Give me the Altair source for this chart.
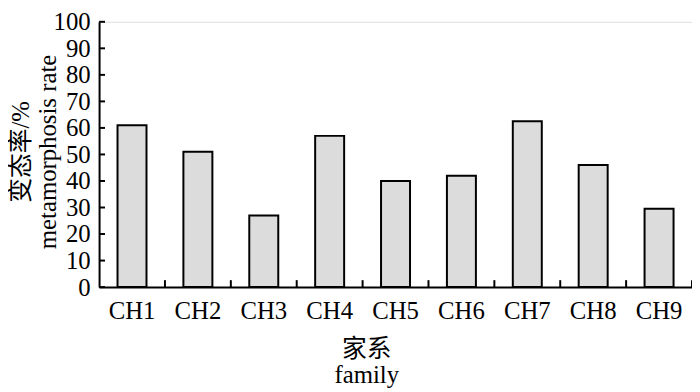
import altair as alt
import pandas as pd

families = ["CH1", "CH2", "CH3", "CH4", "CH5", "CH6", "CH7", "CH8", "CH9"]
rates = [61, 51, 27, 57, 40, 42, 62.5, 46, 29.5]
y_ticks = [0, 10, 20, 30, 40, 50, 60, 70, 80, 90, 100]

df = pd.DataFrame({"family": families, "rate": rates})
tick_df = pd.DataFrame({"v": y_ticks})

FONT = "Liberation Serif, Times New Roman, Noto Sans CJK SC"
W, H = 599, 268

x_scale = alt.Scale(domain=families, paddingInner=0, paddingOuter=0)
y_scale = alt.Scale(domain=[0, 100], nice=False)

x_axis = alt.Axis(
    title=["家系", "family"],
    titleFont=FONT,
    titleFontSize=25,
    titleFontWeight="normal",
    titleLineHeight=26,
    titleX=270,
    titleY=70,
    titleAlign="center",
    titleBaseline="alphabetic",
    labelFont=FONT,
    labelFontSize=25,
    labelAngle=0,
    labelPadding=12,
    labelOverlap=False,
    ticks=False,
    tickSize=0,
    grid=False,
    domainColor="black",
    domainWidth=2,
    labelColor="black",
    titleColor="black",
)

y_axis = alt.Axis(
    title=["变态率/%", "metamorphosis rate"],
    titleFont=FONT,
    titleFontSize=25,
    titleFontWeight="normal",
    titleLineHeight=27,
    titleX=-79,
    titleY=131,
    titleAngle=270,
    titleAlign="center",
    titleBaseline="middle",
    labelFont=FONT,
    labelFontSize=25,
    labelPadding=9,
    labelOverlap=False,
    labelFlush=False,
    values=y_ticks,
    ticks=False,
    tickSize=0,
    grid=False,
    domainColor="black",
    domainWidth=2,
    labelColor="black",
    titleColor="black",
)

bars = alt.Chart(df).mark_bar(
    fill="#dcdcdc", stroke="black", strokeWidth=2, width={"band": 0.44}
).encode(
    x=alt.X("family:N", sort=families, scale=x_scale, axis=x_axis),
    y=alt.Y("rate:Q", scale=y_scale, axis=y_axis),
)

xticks = alt.Chart(df).mark_rule(color="black", strokeWidth=2).encode(
    x=alt.X("family:N", sort=families, bandPosition=1, scale=x_scale, axis=x_axis),
    y=alt.value(H - 7),
    y2=alt.value(H),
)

yticks = alt.Chart(tick_df).mark_rule(color="black", strokeWidth=2).encode(
    y=alt.Y("v:Q", scale=y_scale, axis=y_axis),
    x=alt.value(0),
    x2=alt.value(6),
)

chart = (
    alt.layer(bars, xticks, yticks)
    .properties(
        width=W,
        height=H,
        autosize=alt.AutoSizeParams(type="none"),
        padding={"left": 92, "top": 12, "right": 0, "bottom": 100},
    )
    .configure_view(stroke=None)
    .configure_axis(grid=False)
    .configure(background="white")
)

chart.save("out.html", embed_options={"renderer": "svg", "actions": False})
